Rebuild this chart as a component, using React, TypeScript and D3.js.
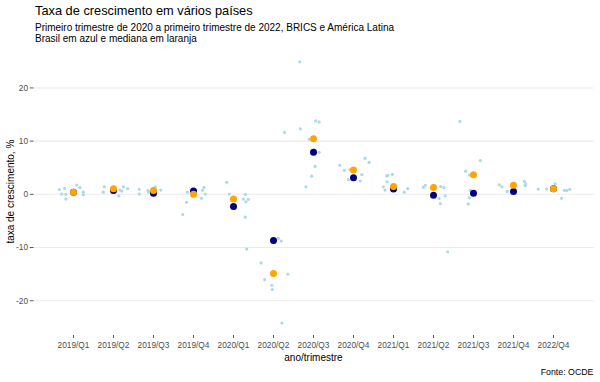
import React from "react";
import * as d3 from "d3";

const quarters = ["2019/Q1","2019/Q2","2019/Q3","2019/Q4","2020/Q1","2020/Q2","2020/Q3","2020/Q4","2021/Q1","2021/Q2","2021/Q3","2021/Q4","2022/Q4"];

const brazil = [0.4, 0.7, 0.2, 0.6, -2.3, -8.7, 7.9, 3.1, 1.0, -0.2, 0.2, 0.55, 1.05];
const median = [0.4, 1.05, 0.7, 0.0, -0.9, -14.9, 10.45, 4.55, 1.45, 1.3, 3.7, 1.7, 1.05];

// other countries per quarter (values, %)
const countryValues: number[][] = [
  [0.9, 0.05, 1.1, 0.0, -0.9, 1.75, 1.25, 0.4, -0.1],
  [0.4, 1.4, -0.3, 0.8, 0.6, 1.4, 1.05],
  [0.95, 0.05, 0.7, 0.4, 1.4, 0.8],
  [-3.8, -1.5, 0.4, -0.75, 0.75, 1.3, 0.05],
  [2.25, 0.05, -0.9, 0.0, -1.4, -0.95, -4.3, -10.3],
  [-8.3, -8.8, -12.9, -16.05, -17.1, -17.9, -15.0, -24.2, 11.65],
  [24.9, 13.8, 13.6, 12.3, 10.35, 7.9, 5.25, 3.4, 1.4],
  [5.45, 4.5, 4.6, 2.75, 3.7, 6.75, 6.0, 2.5],
  [1.4, 3.45, 3.55, 3.75, 2.35, 0.8, 0.4, 1.05],
  [1.3, 1.7, 1.45, 1.25, -0.8, -1.75, -0.3, -10.8],
  [13.7, 6.35, 4.35, 3.6, 0.75, -0.65, -1.8],
  [1.8, 1.4, 0.55, 2.45, 1.65, 1.95],
  [0.95, 1.0, 1.95, -0.75, 0.75, 0.7, 0.95],
];

// horizontal jitter of each country point, as a fraction of one quarter step
const countryJitter: number[][] = [
  [-0.355, -0.295, -0.22, -0.19, -0.19, 0.08, 0.16, 0.245, 0.245],
  [-0.255, -0.23, 0.13, 0.16, 0.205, 0.245, 0.355],
  [-0.355, -0.355, -0.14, -0.12, 0.045, 0.18],
  [-0.27, -0.175, -0.15, 0.2, 0.225, 0.26, 0.295],
  [-0.17, -0.105, 0.245, 0.295, 0.31, 0.37, 0.295, 0.33],
  [0.12, 0.195, -0.31, -0.22, -0.04, -0.03, 0.36, 0.21, 0.275],
  [-0.345, 0.055, 0.14, -0.33, -0.11, 0.14, 0.04, -0.045, -0.19],
  [-0.345, -0.23, -0.095, -0.13, 0.21, 0.29, 0.39, 0.17],
  [-0.255, -0.17, -0.14, -0.03, -0.16, -0.21, 0.27, 0.355],
  [-0.255, -0.205, 0.18, 0.26, 0.14, 0.17, 0.29, 0.355],
  [-0.34, 0.17, -0.195, -0.1, -0.08, -0.105, -0.13],
  [-0.355, -0.29, -0.16, 0.27, 0.29, 0.305],
  [-0.38, -0.17, 0.04, 0.2, 0.27, 0.33, 0.405],
];

const yTicks = [-20, -10, 0, 10, 20];

const W = 600;
const H = 382;
const panel = { left: 33.5, right: 593.5, top: 48.3, bottom: 335 };
const FONT = "'Liberation Sans', Arial, sans-serif";

export default function App() {
  const x = d3.scalePoint<string>().domain(quarters).range([panel.left, panel.right]).padding(1);
  const step = x.step();
  const y = d3.scaleLinear().domain([-26.45, 27.45]).range([panel.bottom, panel.top]);

  const pts: { cx: number; cy: number; key: string }[] = [];
  countryValues.forEach((vals, i) => {
    vals.forEach((v, j) => {
      pts.push({ cx: (x(quarters[i]) as number) + countryJitter[i][j] * step, cy: y(v), key: `${i}-${j}` });
    });
  });

  return (
    <svg width={W} height={H} style={{ position: "absolute", left: 0, top: 0, background: "#fff" }} fontFamily={FONT}>
      <rect x={0} y={0} width={W} height={H} fill="#fff" />
      <text x={35} y={15} fontSize={12.8} fill="#000">Taxa de crescimento em vários países</text>
      <text x={35} y={30.5} fontSize={10} fill="#000">Primeiro trimestre de 2020 a primeiro trimestre de 2022, BRICS e América Latina</text>
      <text x={35} y={42} fontSize={10} fill="#000">Brasil em azul e mediana em laranja</text>

      {yTicks.map((t) => (
        <g key={t}>
          <line x1={panel.left} x2={panel.right} y1={y(t)} y2={y(t)} stroke="#EBEBEB" strokeWidth={1.1} />
          <line x1={panel.left - 3.7} x2={panel.left} y1={y(t)} y2={y(t)} stroke="#333" strokeWidth={0.8} />
          <text x={panel.left - 5.5} y={y(t)} dy="0.36em" textAnchor="end" fontSize={8.3} fill="#4D4D4D">{t}</text>
        </g>
      ))}

      {quarters.map((q) => (
        <g key={q}>
          <line x1={x(q)} x2={x(q)} y1={panel.bottom} y2={panel.bottom + 3} stroke="#333" strokeWidth={0.8} />
          <text x={x(q)} y={347.5} textAnchor="middle" fontSize={8.3} fill="#4D4D4D">{q}</text>
        </g>
      ))}

      {pts.map((p) => (
        <circle key={p.key} cx={p.cx} cy={p.cy} r={1.6} fill="#ADD8E6" />
      ))}
      {brazil.map((v, i) => (
        <circle key={"b" + i} cx={x(quarters[i])} cy={y(v)} r={3.5} fill="#000080" />
      ))}
      {median.map((v, i) => (
        <circle key={"m" + i} cx={x(quarters[i])} cy={y(v)} r={3.5} fill="#FFA500" />
      ))}

      <text x={(panel.left + panel.right) / 2} y={361} textAnchor="middle" fontSize={10} fill="#000">ano/trimestre</text>
      <text transform={`translate(14,${(panel.top + panel.bottom) / 2}) rotate(-90)`} textAnchor="middle" fontSize={10} fill="#000">taxa de crescimento, %</text>
      <text x={593.5} y={375} textAnchor="end" fontSize={8.8} fill="#000">Fonte: OCDE</text>
    </svg>
  );
}
